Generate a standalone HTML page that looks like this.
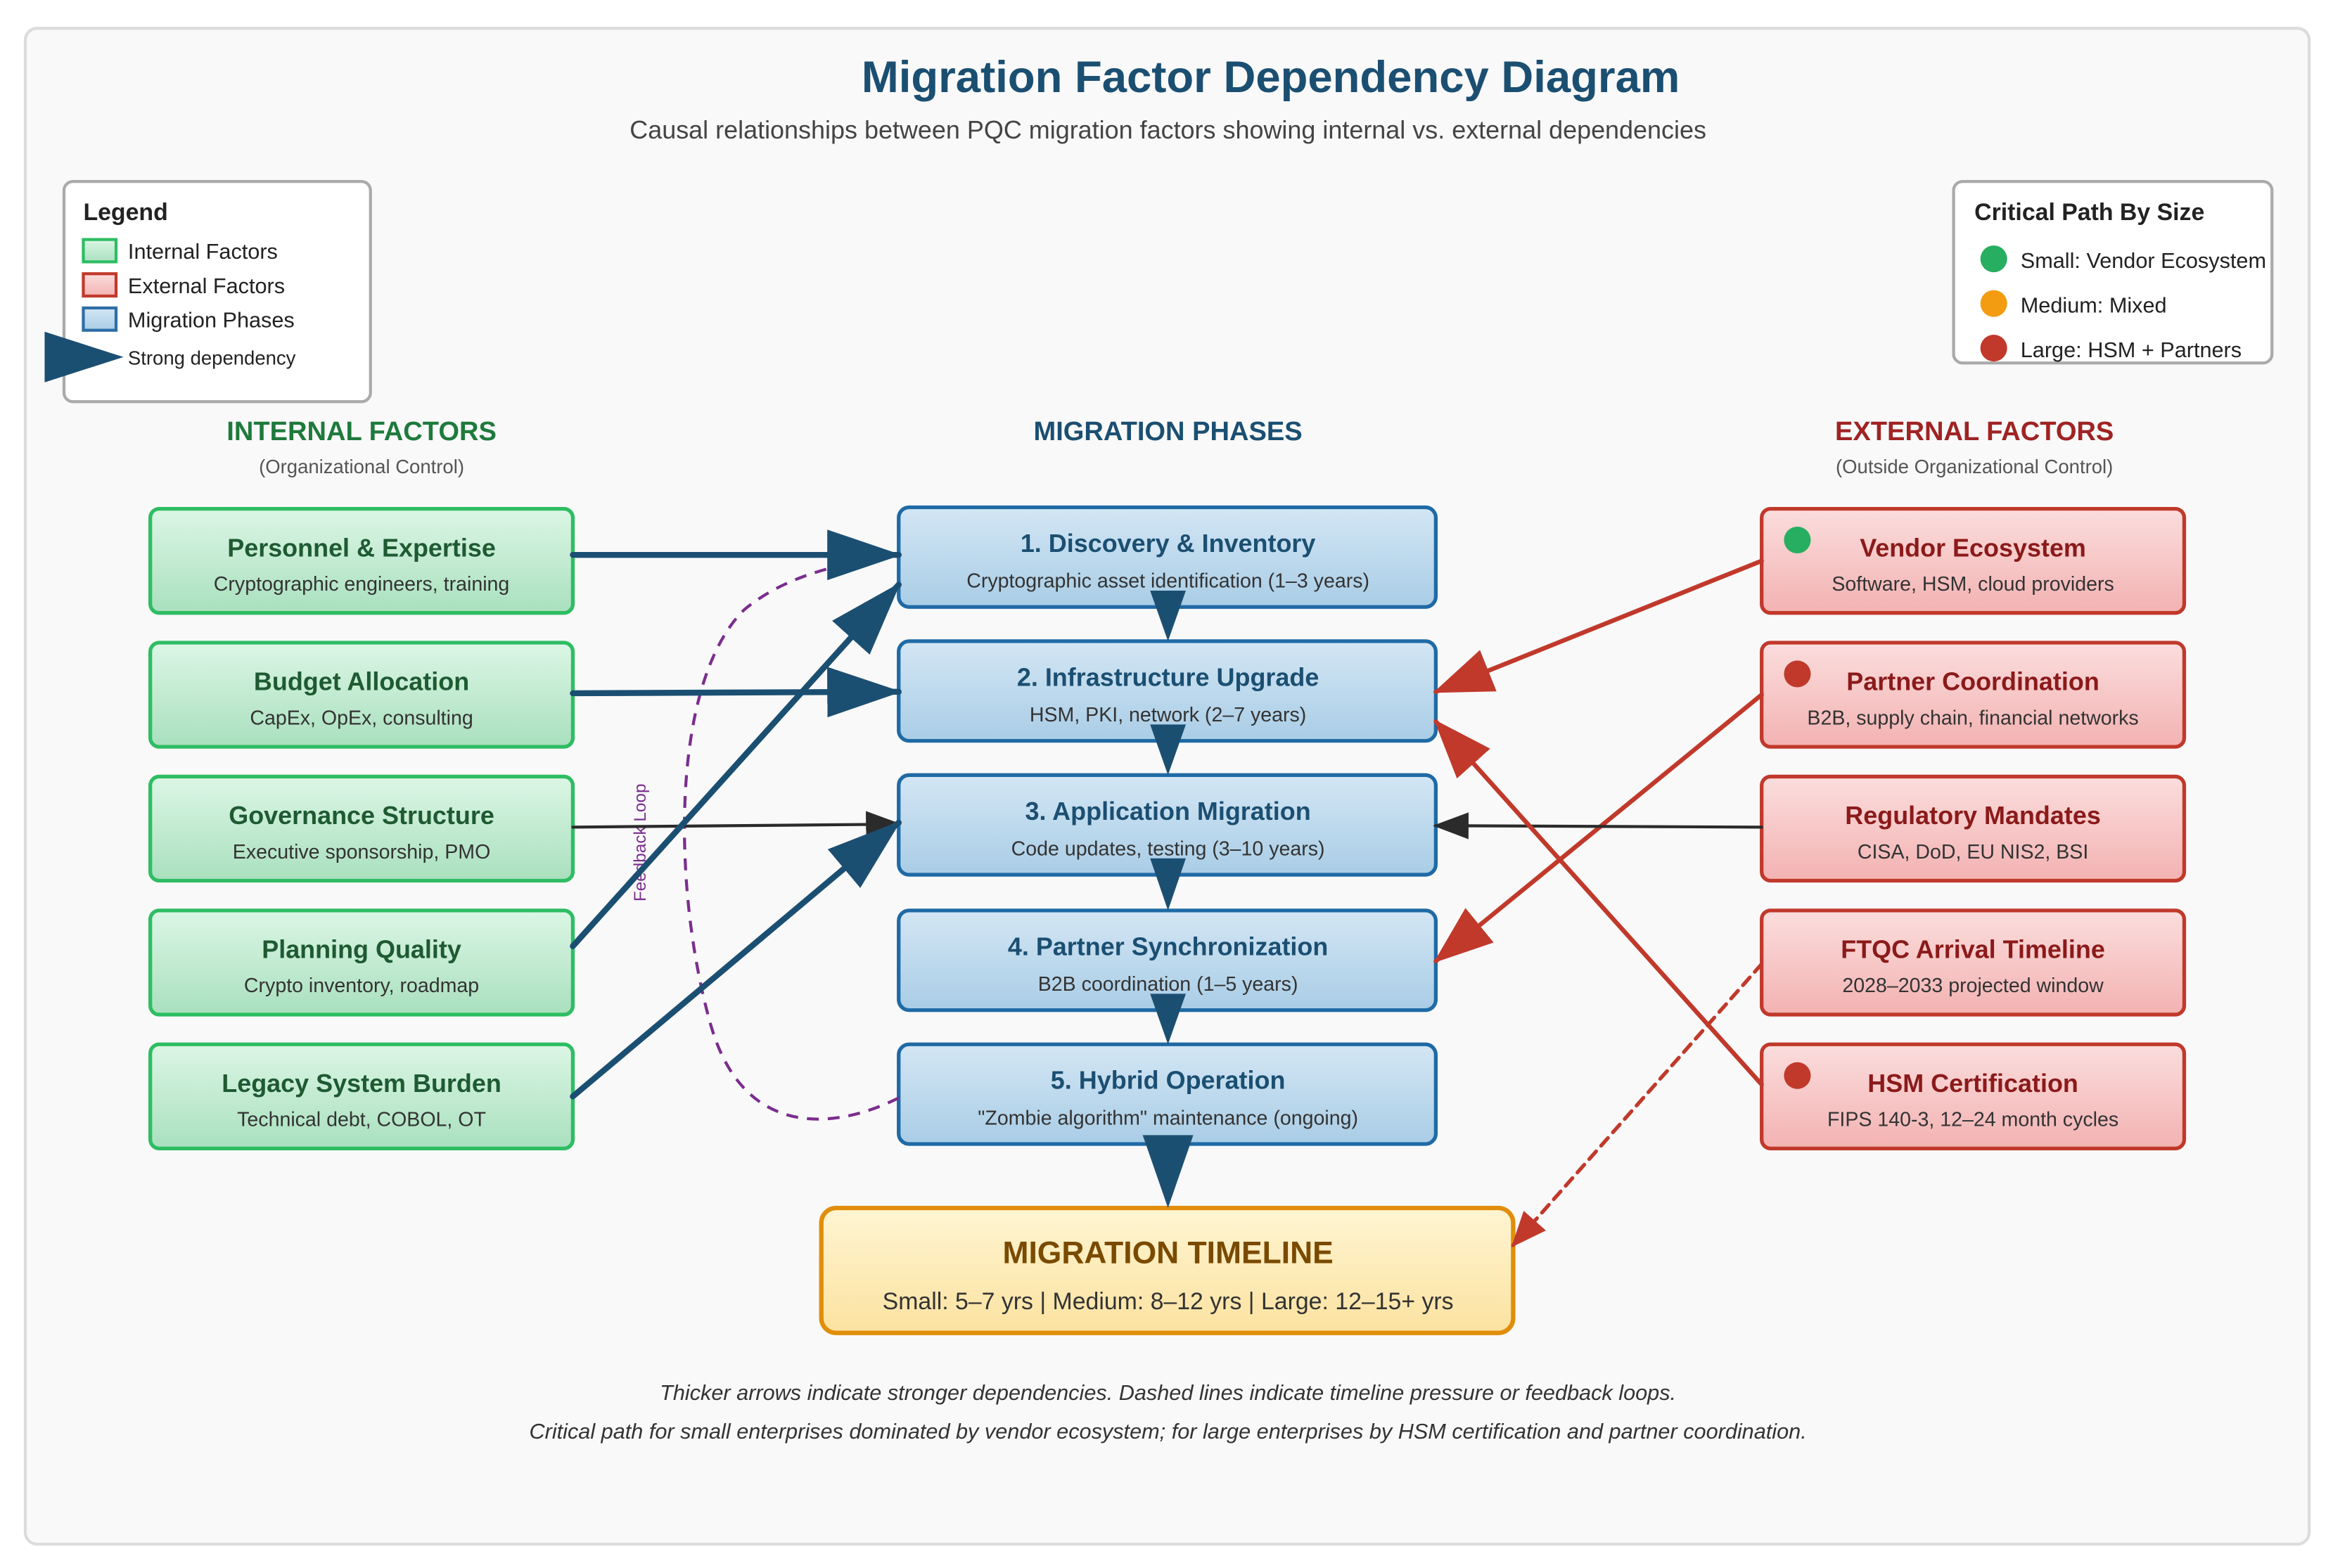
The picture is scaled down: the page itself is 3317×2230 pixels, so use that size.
<!DOCTYPE html>
<html><head><meta charset="utf-8"><style>html,body{margin:0;padding:0;background:#fff}svg{display:block}text{font-family:"Liberation Sans",sans-serif}</style></head><body>
<svg width="3317" height="2230" viewBox="0 0 1568 1054" preserveAspectRatio="none" xmlns="http://www.w3.org/2000/svg">
<defs>
<linearGradient id="gG" x1="0" y1="0" x2="0" y2="1"><stop offset="0" stop-color="#dcf6e5"/><stop offset="1" stop-color="#a9e0be"/></linearGradient>
<linearGradient id="gB" x1="0" y1="0" x2="0" y2="1"><stop offset="0" stop-color="#d3e6f4"/><stop offset="1" stop-color="#a9cde6"/></linearGradient>
<linearGradient id="gR" x1="0" y1="0" x2="0" y2="1"><stop offset="0" stop-color="#fbdddd"/><stop offset="1" stop-color="#f3b2b2"/></linearGradient>
<linearGradient id="gY" x1="0" y1="0" x2="0" y2="1"><stop offset="0" stop-color="#fff5d2"/><stop offset="1" stop-color="#fbe2a0"/></linearGradient>
<marker id="mB" viewBox="0 0 50 34" refX="48" refY="17" markerWidth="50" markerHeight="34" markerUnits="userSpaceOnUse" orient="auto"><path d="M0,0 L50,17 L0,34 z" fill="#1b4f72"/></marker>
<marker id="mR" viewBox="0 0 40 30" refX="38" refY="15" markerWidth="40" markerHeight="30" markerUnits="userSpaceOnUse" orient="auto"><path d="M0,0 L40,15 L0,30 z" fill="#c0392b"/></marker>
<marker id="mRs" viewBox="0 0 24 20" refX="22" refY="10" markerWidth="24" markerHeight="20" markerUnits="userSpaceOnUse" orient="auto"><path d="M0,0 L24,10 L0,20 z" fill="#c0392b"/></marker>
<marker id="mK" viewBox="0 0 24 18" refX="22" refY="9" markerWidth="24" markerHeight="18" markerUnits="userSpaceOnUse" orient="auto"><path d="M0,0 L24,9 L0,18 z" fill="#2b2b2b"/></marker>
</defs>
<rect x="0" y="0" width="1568" height="1054" fill="#fff"/>
<rect x="17" y="19" width="1535" height="1019" rx="8" fill="#f9f9f9" stroke="#dcdcdc" stroke-width="2"/>
<text x="854" y="62" text-anchor="middle" font-size="30" font-weight="bold" fill="#1b4f72">Migration Factor Dependency Diagram</text>
<text x="785" y="93" text-anchor="middle" font-size="17" fill="#444">Causal relationships between PQC migration factors showing internal vs. external dependencies</text>

<!-- Legend -->
<rect x="43" y="122" width="206" height="148" rx="6" fill="#fff" stroke="#aaa" stroke-width="2"/>
<text x="56" y="148" font-size="16" font-weight="bold" fill="#222">Legend</text>
<rect x="56" y="161" width="22" height="15" fill="url(#gG)" stroke="#2ebd63" stroke-width="2"/>
<text x="86" y="174" font-size="14.5" fill="#222">Internal Factors</text>
<rect x="56" y="184" width="22" height="15" fill="url(#gR)" stroke="#c0392b" stroke-width="2"/>
<text x="86" y="197" font-size="14.5" fill="#222">External Factors</text>
<rect x="56" y="207" width="22" height="15" fill="url(#gB)" stroke="#2e6ea6" stroke-width="2"/>
<text x="86" y="220" font-size="14.5" fill="#222">Migration Phases</text>
<path d="M30,223 L83,240 L30,257 z" fill="#1b4f72"/>
<text x="86" y="245" font-size="13" fill="#222">Strong dependency</text>

<!-- Critical path -->
<rect x="1313" y="122" width="214" height="122" rx="6" fill="#fff" stroke="#aaa" stroke-width="2"/>
<text x="1327" y="148" font-size="16" font-weight="bold" fill="#222">Critical Path By Size</text>
<circle cx="1340" cy="174" r="9" fill="#27ae60"/><text x="1358" y="180" font-size="14.5" fill="#222">Small: Vendor Ecosystem</text>
<circle cx="1340" cy="204" r="9" fill="#f39c12"/><text x="1358" y="210" font-size="14.5" fill="#222">Medium: Mixed</text>
<circle cx="1340" cy="234" r="9" fill="#c0392b"/><text x="1358" y="240" font-size="14.5" fill="#222">Large: HSM + Partners</text>

<!-- Column headers -->
<text x="243" y="296" text-anchor="middle" font-size="18" font-weight="bold" fill="#1e7a3c">INTERNAL FACTORS</text>
<text x="243" y="318" text-anchor="middle" font-size="13" fill="#555">(Organizational Control)</text>
<text x="785" y="296" text-anchor="middle" font-size="18" font-weight="bold" fill="#1b4f72">MIGRATION PHASES</text>
<text x="1327" y="296" text-anchor="middle" font-size="18" font-weight="bold" fill="#a02323">EXTERNAL FACTORS</text>
<text x="1327" y="318" text-anchor="middle" font-size="13" fill="#555">(Outside Organizational Control)</text>

<!-- Internal boxes -->
<g font-size="17" text-anchor="middle">
<rect x="101" y="342" width="284" height="70" rx="6" fill="url(#gG)" stroke="#2ebd63" stroke-width="2.5"/>
<text x="243" y="374" font-weight="bold" fill="#1e5a32">Personnel &amp; Expertise</text>
<text x="243" y="397" font-size="13.5" fill="#333">Cryptographic engineers, training</text>
<rect x="101" y="432" width="284" height="70" rx="6" fill="url(#gG)" stroke="#2ebd63" stroke-width="2.5"/>
<text x="243" y="464" font-weight="bold" fill="#1e5a32">Budget Allocation</text>
<text x="243" y="487" font-size="13.5" fill="#333">CapEx, OpEx, consulting</text>
<rect x="101" y="522" width="284" height="70" rx="6" fill="url(#gG)" stroke="#2ebd63" stroke-width="2.5"/>
<text x="243" y="554" font-weight="bold" fill="#1e5a32">Governance Structure</text>
<text x="243" y="577" font-size="13.5" fill="#333">Executive sponsorship, PMO</text>
<rect x="101" y="612" width="284" height="70" rx="6" fill="url(#gG)" stroke="#2ebd63" stroke-width="2.5"/>
<text x="243" y="644" font-weight="bold" fill="#1e5a32">Planning Quality</text>
<text x="243" y="667" font-size="13.5" fill="#333">Crypto inventory, roadmap</text>
<rect x="101" y="702" width="284" height="70" rx="6" fill="url(#gG)" stroke="#2ebd63" stroke-width="2.5"/>
<text x="243" y="734" font-weight="bold" fill="#1e5a32">Legacy System Burden</text>
<text x="243" y="757" font-size="13.5" fill="#333">Technical debt, COBOL, OT</text>

<!-- External boxes -->
<rect x="1184" y="342" width="284" height="70" rx="6" fill="url(#gR)" stroke="#c0392b" stroke-width="2.5"/>
<text x="1326" y="374" font-weight="bold" fill="#8b1a1a">Vendor Ecosystem</text>
<text x="1326" y="397" font-size="13.5" fill="#333">Software, HSM, cloud providers</text>
<circle cx="1208" cy="363" r="9" fill="#27ae60"/>
<rect x="1184" y="432" width="284" height="70" rx="6" fill="url(#gR)" stroke="#c0392b" stroke-width="2.5"/>
<text x="1326" y="464" font-weight="bold" fill="#8b1a1a">Partner Coordination</text>
<text x="1326" y="487" font-size="13.5" fill="#333">B2B, supply chain, financial networks</text>
<circle cx="1208" cy="453" r="9" fill="#c0392b"/>
<rect x="1184" y="522" width="284" height="70" rx="6" fill="url(#gR)" stroke="#c0392b" stroke-width="2.5"/>
<text x="1326" y="554" font-weight="bold" fill="#8b1a1a">Regulatory Mandates</text>
<text x="1326" y="577" font-size="13.5" fill="#333">CISA, DoD, EU NIS2, BSI</text>
<rect x="1184" y="612" width="284" height="70" rx="6" fill="url(#gR)" stroke="#c0392b" stroke-width="2.5"/>
<text x="1326" y="644" font-weight="bold" fill="#8b1a1a">FTQC Arrival Timeline</text>
<text x="1326" y="667" font-size="13.5" fill="#333">2028–2033 projected window</text>
<rect x="1184" y="702" width="284" height="70" rx="6" fill="url(#gR)" stroke="#c0392b" stroke-width="2.5"/>
<text x="1326" y="734" font-weight="bold" fill="#8b1a1a">HSM Certification</text>
<text x="1326" y="757" font-size="13.5" fill="#333">FIPS 140-3, 12–24 month cycles</text>
<circle cx="1208" cy="723" r="9" fill="#c0392b"/>

<!-- Phase boxes -->
<rect x="604" y="341" width="361" height="67" rx="7" fill="url(#gB)" stroke="#1f6aa5" stroke-width="2.5"/>
<text x="785" y="371" font-weight="bold" fill="#1b4f72">1. Discovery &amp; Inventory</text>
<text x="785" y="395" font-size="13.5" fill="#333">Cryptographic asset identification (1–3 years)</text>
<rect x="604" y="431" width="361" height="67" rx="7" fill="url(#gB)" stroke="#1f6aa5" stroke-width="2.5"/>
<text x="785" y="461" font-weight="bold" fill="#1b4f72">2. Infrastructure Upgrade</text>
<text x="785" y="485" font-size="13.5" fill="#333">HSM, PKI, network (2–7 years)</text>
<rect x="604" y="521" width="361" height="67" rx="7" fill="url(#gB)" stroke="#1f6aa5" stroke-width="2.5"/>
<text x="785" y="551" font-weight="bold" fill="#1b4f72">3. Application Migration</text>
<text x="785" y="575" font-size="13.5" fill="#333">Code updates, testing (3–10 years)</text>
<rect x="604" y="612" width="361" height="67" rx="7" fill="url(#gB)" stroke="#1f6aa5" stroke-width="2.5"/>
<text x="785" y="642" font-weight="bold" fill="#1b4f72">4. Partner Synchronization</text>
<text x="785" y="666" font-size="13.5" fill="#333">B2B coordination (1–5 years)</text>
<rect x="604" y="702" width="361" height="67" rx="7" fill="url(#gB)" stroke="#1f6aa5" stroke-width="2.5"/>
<text x="785" y="732" font-weight="bold" fill="#1b4f72">5. Hybrid Operation</text>
<text x="785" y="756" font-size="13.5" fill="#333">"Zombie algorithm" maintenance (ongoing)</text>
</g>

<!-- Timeline -->
<rect x="552" y="812" width="465" height="84" rx="10" fill="url(#gY)" stroke="#e08e0b" stroke-width="3"/>
<text x="785" y="849" text-anchor="middle" font-size="21" font-weight="bold" fill="#7a4a00">MIGRATION TIMELINE</text>
<text x="785" y="880" text-anchor="middle" font-size="16" fill="#333">Small: 5–7 yrs | Medium: 8–12 yrs | Large: 12–15+ yrs</text>

<!-- Phase down arrows -->
<g fill="#1b4f72">
<path d="M773,397 L797,397 L785,431 z"/>
<path d="M773,487 L797,487 L785,521 z"/>
<path d="M773,577 L797,577 L785,612 z"/>
<path d="M773,668 L797,668 L785,702 z"/>
<path d="M768,763 L802,763 L785,812 z"/>
</g>

<!-- Feedback loop -->
<path d="M604,738 C560,760 500,765 478,690 C452,600 450,460 500,410 C530,385 570,378 604,373" fill="none" stroke="#7b2d8e" stroke-width="2" stroke-dasharray="8,6"/>
<text transform="translate(434,606) rotate(-90)" font-size="11.5" fill="#7b2d8e" font-family="DejaVu Sans, sans-serif">Feedback Loop</text>

<!-- Internal arrows -->
<g fill="none" stroke-linecap="round">
<line x1="385" y1="373" x2="604" y2="373" stroke="#1b4f72" stroke-width="4" marker-end="url(#mB)"/>
<line x1="385" y1="466" x2="604" y2="465" stroke="#1b4f72" stroke-width="4" marker-end="url(#mB)"/>
<line x1="385" y1="556" x2="604" y2="554" stroke="#2b2b2b" stroke-width="2" marker-end="url(#mK)"/>
<line x1="385" y1="636" x2="604" y2="393" stroke="#1b4f72" stroke-width="4" marker-end="url(#mB)"/>
<line x1="385" y1="737" x2="604" y2="553" stroke="#1b4f72" stroke-width="4" marker-end="url(#mB)"/>
<!-- External arrows -->
<line x1="1184" y1="377" x2="965" y2="465" stroke="#c0392b" stroke-width="3" marker-end="url(#mR)"/>
<line x1="1184" y1="467" x2="965" y2="646" stroke="#c0392b" stroke-width="3" marker-end="url(#mR)"/>
<line x1="1184" y1="556" x2="965" y2="555" stroke="#2b2b2b" stroke-width="2" marker-end="url(#mK)"/>
<line x1="1184" y1="729" x2="965" y2="485" stroke="#c0392b" stroke-width="3" marker-end="url(#mR)"/>
<line x1="1184" y1="648" x2="1017" y2="837" stroke="#c0392b" stroke-width="2.5" stroke-dasharray="7,5" marker-end="url(#mRs)"/>
</g>

<!-- Footer -->
<text x="785" y="941" text-anchor="middle" font-size="14.5" font-style="italic" fill="#333">Thicker arrows indicate stronger dependencies. Dashed lines indicate timeline pressure or feedback loops.</text>
<text x="785" y="967" text-anchor="middle" font-size="14.5" font-style="italic" fill="#333">Critical path for small enterprises dominated by vendor ecosystem; for large enterprises by HSM certification and partner coordination.</text>
</svg>
</body></html>
